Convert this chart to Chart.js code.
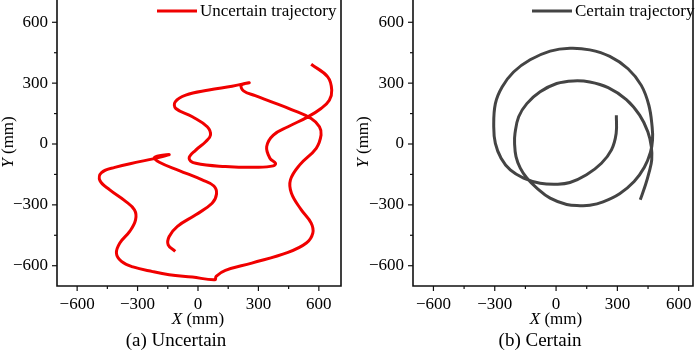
<!DOCTYPE html>
<html>
<head>
<meta charset="UTF-8">
<title>Trajectories</title>
<script src="https://cdn.jsdelivr.net/npm/chart.js"></script>
<style>
  body { margin: 0; background: #fff; font-family: "Liberation Serif", "Times New Roman", serif; }
  #wrap { position: relative; width: 700px; height: 350px; overflow: hidden; }
  #wrap canvas { position: absolute; top: 0; }
  .lbl { position: absolute; font-size: 17px; line-height: 17px; color: #000; white-space: nowrap; text-align: center; }
  .cap { position: absolute; font-size: 19px; line-height: 19px; color: #000; white-space: nowrap; text-align: center; }
  .ylbl { position: absolute; width: 100px; height: 20px; line-height: 20px; font-size: 17px; text-align: center; transform: rotate(-90deg); white-space: nowrap; }
</style>
</head>
<body>
<div id="wrap">
  <canvas id="chartA" width="350" height="350" style="left:0"></canvas>
  <canvas id="chartB" width="350" height="350" style="left:350px"></canvas>

  <div class="ylbl" style="left:-42px; top:132px"><i>Y</i> (mm)</div>
  <div class="lbl" style="left:148px; width:100px; top:310px"><i>X</i> (mm)</div>
  <div class="cap" style="left:76px; width:200px; top:330px">(a) Uncertain</div>

  <div class="ylbl" style="left:313px; top:132px"><i>Y</i> (mm)</div>
  <div class="lbl" style="left:506px; width:100px; top:310px"><i>X</i> (mm)</div>
  <div class="cap" style="left:440px; width:200px; top:330px">(b) Certain</div>
</div>

<script>
  // axis ticks (mm)
  const majorTicks = [-600, -300, 0, 300, 600];
  const minorTicks = [-450, -150, 150, 450];

  // uncertain trajectory, X / Y in mm
  const uncertainX = [562, 644, 664, 652, 611, 546, 447, 374, 341, 357, 385, 374, 300, 136, -11, -44, -11, 38, 62, 46,
    -28, -110, -113, -61, 54, 169, 254, 215, 226, 284, 365, 464, 562, 603, 611, 587, 505, 459, 464, 513,
    562, 570, 538, 447, 267, 136, 90, 84, -28, -143, -225, -323, -380, -405, -388, -339, -310, -315, -364, -438,
    -487, -479, -413, -290, -192, -143, -216, -192, -93, 21, 79, 92, 70, -11, -102, -143, -148, -113];
  const uncertainY = [393, 331, 266, 216, 175, 134, 85, 44, -13, -70, -95, -108, -115, -111, -95, -70, -30, 11, 44, 85,
    134, 175, 208, 241, 266, 285, 302, 290, 262, 238, 208, 170, 126, 85, 44, -21, -103, -177, -243, -325,
    -390, -439, -488, -534, -587, -623, -652, -669, -656, -644, -629, -606, -579, -538, -488, -431, -374, -325, -279, -226,
    -180, -141, -115, -87, -66, -52, -66, -90, -131, -177, -207, -246, -292, -349, -406, -456, -497, -529];

  // certain trajectory, X / Y in mm
  const certainX = [295, 294, 271, 222, 149, 68, 3, -78, -159, -224, -269, -297, -305, -297, -264, -208, -127, -29, 68, 165,
    263, 352, 417, 454, 470, 472, 462, 432, 382, 311, 230, 165, 117, 52, -29, -94, -143, -175, -196, -203,
    -201, -183, -143, -78, 3, 84, 165, 255, 344, 409, 449, 466, 468, 455, 438, 412];
  const certainY = [142, 52, -29, -95, -152, -190, -198, -193, -168, -128, -70, 3, 85, 199, 281, 355, 415, 458, 472, 464,
    432, 371, 289, 191, 85, 20, -40, -115, -185, -245, -285, -302, -304, -298, -267, -217, -168, -119, -62, 3,
    52, 134, 199, 257, 298, 311, 306, 278, 219, 142, 60, -13, -78, -140, -200, -275];

  const serif = '"Liberation Serif", "Times New Roman", serif';
  const fmt = v => (v < 0 ? '\u2212' + Math.abs(v) : String(v));

  const toPoints = (xs, ys) => xs.map((x, i) => ({ x: x, y: ys[i] }));

  // frame on three sides, outward ticks, and the in-plot legend
  const framePlugin = {
    id: 'frame',
    afterDraw(chart, args, opts) {
      const { ctx, chartArea: a } = chart;
      const sx = chart.scales.x, sy = chart.scales.y;
      const seg = (x1, y1, x2, y2) => { ctx.beginPath(); ctx.moveTo(x1, y1); ctx.lineTo(x2, y2); ctx.stroke(); };
      ctx.save();
      ctx.strokeStyle = '#111';
      ctx.lineWidth = 1.6;
      ctx.beginPath();
      ctx.moveTo(a.left, a.top - 3);
      ctx.lineTo(a.left, a.bottom);
      ctx.lineTo(a.right, a.bottom);
      ctx.lineTo(a.right, a.top - 3);
      ctx.stroke();

      ctx.lineWidth = 1.2;
      majorTicks.forEach(v => {
        const px = sx.getPixelForValue(v);
        seg(px, a.bottom, px, a.bottom + 5);
        const py = sy.getPixelForValue(v);
        seg(a.left, py, a.left - 5, py);
      });
      minorTicks.forEach(v => {
        const px = sx.getPixelForValue(v);
        seg(px, a.bottom, px, a.bottom + 3);
        const py = sy.getPixelForValue(v);
        seg(a.left, py, a.left - 3, py);
      });

      // legend
      ctx.strokeStyle = opts.color;
      ctx.lineWidth = 3;
      seg(opts.lx, 11, opts.lx + 40, 11);
      ctx.fillStyle = '#000';
      ctx.font = '17px ' + serif;
      ctx.textBaseline = 'middle';
      ctx.textAlign = 'left';
      ctx.fillText(opts.label, opts.lx + 43, 12);
      ctx.restore();
    }
  };

  function makeChart(id, xs, ys, color, label, xMax, padRight, legendX, yWidth) {
    new Chart(document.getElementById(id), {
      type: 'scatter',
      data: {
        datasets: [{
          label: label,
          data: toPoints(xs, ys),
          showLine: true,
          borderColor: color,
          borderWidth: 3,
          pointRadius: 0,
          tension: 0.4,
          fill: false
        }]
      },
      options: {
        responsive: false,
        animation: false,
        devicePixelRatio: 1,
        layout: { padding: { top: 2, right: padRight, bottom: 0, left: 0 } },
        plugins: {
          legend: { display: false },
          tooltip: { enabled: false },
          frame: { color: color, label: label, lx: legendX }
        },
        scales: {
          x: {
            type: 'linear',
            min: -700,
            max: xMax,
            afterBuildTicks: s => { s.ticks = majorTicks.map(v => ({ value: v })); },
            afterFit: s => { s.height = 64; s.paddingLeft = 0; s.paddingRight = 0; },
            grid: { display: false, drawTicks: false },
            border: { display: false },
            ticks: { callback: fmt, padding: 8, maxRotation: 0, color: '#000', font: { family: serif, size: 17 } }
          },
          y: {
            type: 'linear',
            min: -700,
            max: 700,
            afterBuildTicks: s => { s.ticks = majorTicks.map(v => ({ value: v })); },
            afterFit: s => { s.width = yWidth; s.paddingTop = 0; s.paddingBottom = 0; },
            grid: { display: false, drawTicks: false },
            border: { display: false },
            ticks: { callback: fmt, padding: 9, color: '#000', font: { family: serif, size: 17 } }
          }
        }
      },
      plugins: [framePlugin]
    });
  }

  makeChart('chartA', uncertainX, uncertainY, '#f00000', 'Uncertain trajectory', 710, 9, 157, 57);
  makeChart('chartB', certainX, certainY, '#444444', 'Certain trajectory', 670, 7, 182, 63);
</script>
</body>
</html>
